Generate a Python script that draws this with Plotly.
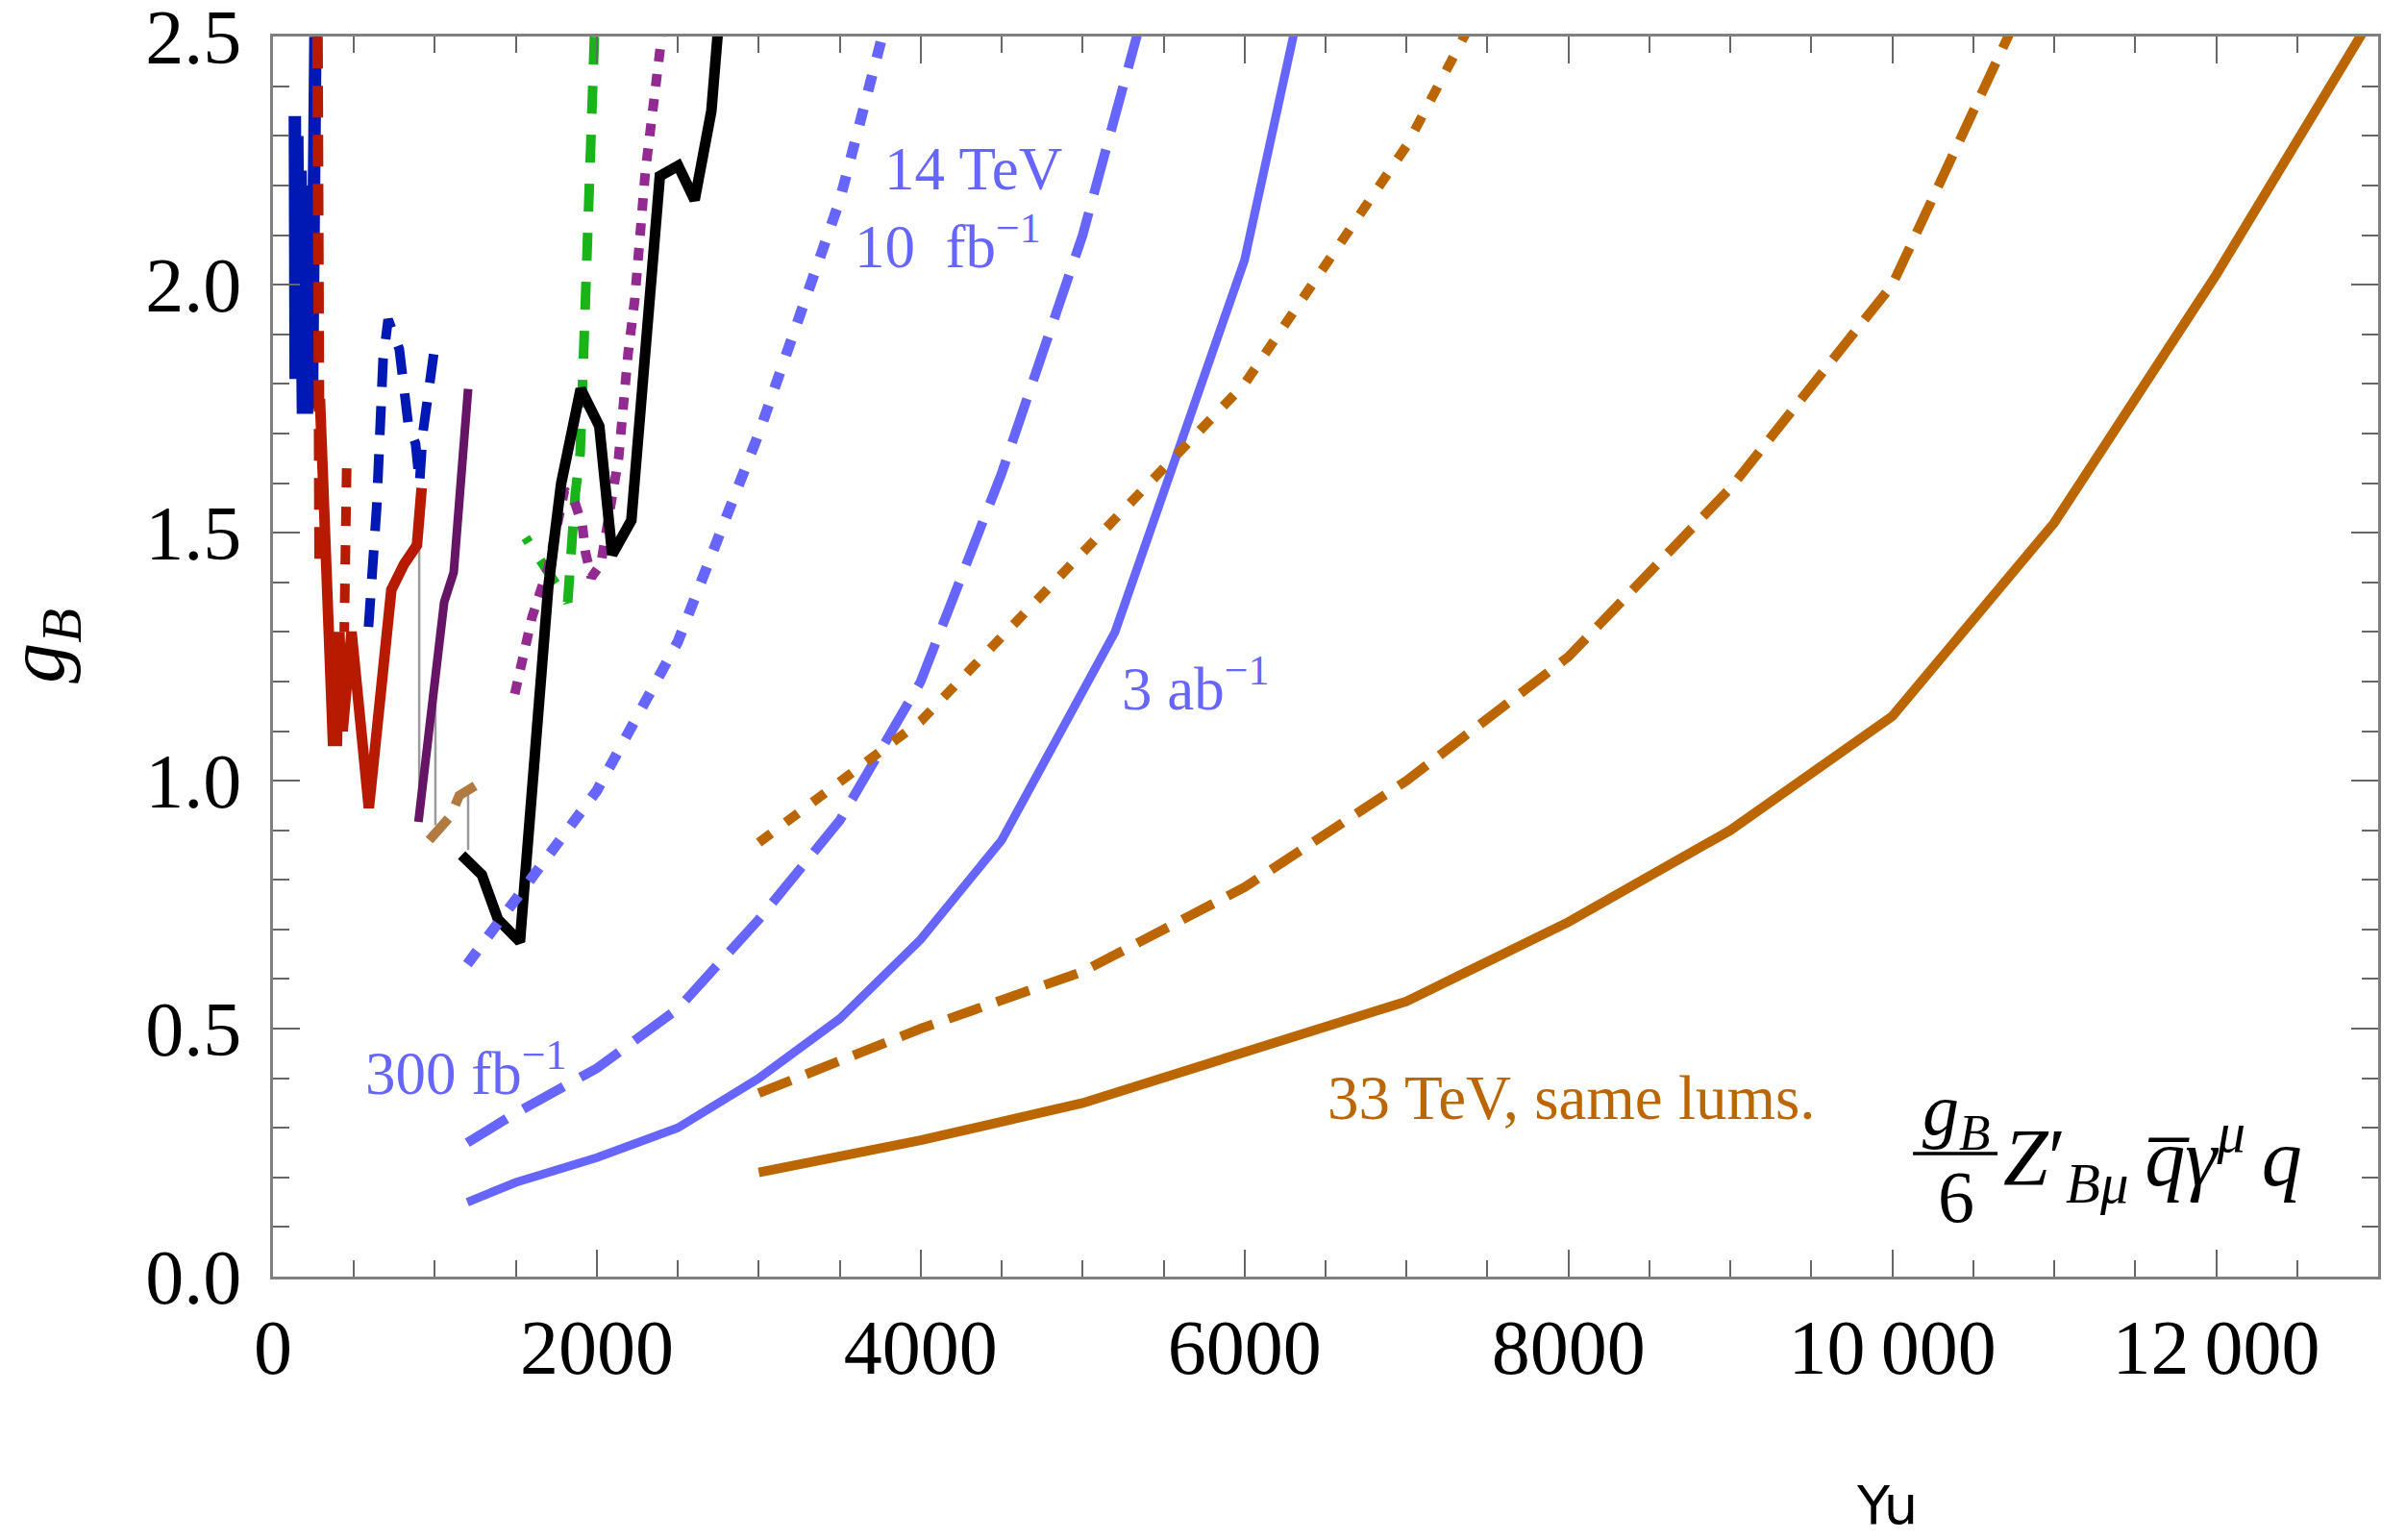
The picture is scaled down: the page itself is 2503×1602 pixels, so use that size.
import plotly.graph_objects as go

# ---------------- data (mass M in GeV, coupling g_B) ----------------
# 14 TeV projections (light blue)
m14_dot = [1200, 1500, 2000, 2500, 3000, 3500, 4000]
g14_dot = [0.63, 0.76, 0.98, 1.28, 1.70, 2.17, 2.80]
m14_dash = [1200, 1500, 2000, 2500, 3000, 3500, 4000, 4500, 5000, 5500]
g14_dash = [0.27, 0.33, 0.42, 0.54, 0.72, 0.92, 1.20, 1.62, 2.10, 2.70]
m14_sol = [1200, 1500, 2000, 2500, 3000, 3500, 4000, 4500, 5200, 6000, 6500]
g14_sol = [0.15, 0.19, 0.24, 0.30, 0.40, 0.52, 0.68, 0.88, 1.30, 2.05, 2.80]

# 33 TeV projections (orange)
m33_dot = [3000, 4000, 5000, 6000, 7000, 8000]
g33_dot = [0.875, 1.12, 1.46, 1.80, 2.28, 2.90]
m33_dash = [3000, 4000, 5000, 6000, 7000, 8000, 9000, 10000, 11000]
g33_dash = [0.37, 0.50, 0.615, 0.785, 1.00, 1.25, 1.59, 2.00, 2.70]
m33_sol = [3000, 4000, 5000, 6000, 7000, 8000, 9000, 10000, 11000, 12000, 13000]
g33_sol = [0.21, 0.275, 0.35, 0.455, 0.555, 0.715, 0.90, 1.13, 1.52, 2.02, 2.56]

# existing limits
m_blue_sol = [135, 140, 150, 160, 170, 185, 195, 210, 225, 240, 250, 258, 262]
g_blue_sol = [2.34, 1.81, 2.30, 1.82, 2.23, 1.74, 2.20, 1.74, 2.15, 1.75, 2.25, 2.40, 2.50]
m_red_dash = [275, 280, 288]
g_red_dash = [2.50, 1.80, 1.42]
m_red_dot = [455, 450, 440]
g_red_dot = [1.63, 1.50, 1.30]
m_red_sol = [290, 320, 340, 370, 395, 410, 430, 470, 485, 592, 731, 810, 889, 918]
g_red_sol = [1.77, 1.50, 1.35, 1.08, 1.08, 1.30, 1.10, 1.30, 1.30, 0.945, 1.385, 1.437, 1.475, 1.59]
m_blue_dash = [590, 640, 680, 711, 780, 835, 880, 905, 925, 965, 1005]
g_blue_dash = [1.31, 1.55, 1.85, 1.93, 1.87, 1.72, 1.68, 1.60, 1.70, 1.80, 1.89]
m_purple_sol = [898, 1057, 1116, 1205]
g_purple_sol = [0.917, 1.36, 1.42, 1.79]
m_tan_dash = [965, 1100, 1150, 1300]
g_tan_dash = [0.88, 0.93, 0.97, 1.00]
m_black = [1165, 1290, 1390, 1525, 1700, 1780, 1900, 2015, 2095, 2213, 2389, 2502, 2604, 2707, 2750]
g_black = [0.85, 0.81, 0.72, 0.675, 1.39, 1.60, 1.79, 1.715, 1.456, 1.525, 2.219, 2.24, 2.171, 2.35, 2.52]
m_purple_dot = [1493, 1600, 1700, 1800, 1860, 1910, 1930, 1966, 2025, 2075, 2134, 2193, 2233, 2300, 2400]
g_purple_dot = [1.175, 1.33, 1.43, 1.585, 1.565, 1.515, 1.46, 1.41, 1.437, 1.546, 1.65, 1.862, 1.967, 2.23, 2.50]
m_green = [1985, 1940, 1907, 1897, 1867, 1838, 1820, 1560]
g_green = [2.50, 2.00, 1.785, 1.66, 1.58, 1.47, 1.36, 1.49]
m_gray1 = [903, 903]
g_gray1 = [1.59, 0.92]
m_gray2 = [1003, 1003]
g_gray2 = [1.19, 0.91]
m_gray3 = [1205, 1205]
g_gray3 = [0.99, 0.86]

x_ticks = [0, 2000, 4000, 6000, 8000, 10000, 12000]
x_ticktext = ["0", "2000", "4000", "6000", "8000", "10\u2009000", "12\u2009000"]
y_ticks = [0, 0.5, 1.0, 1.5, 2.0, 2.5]
y_ticktext = ["0.0", "0.5", "1.0", "1.5", "2.0", "2.5"]

# ---------------- styling ----------------
LBLUE = "#6666ff"
ORANGE = "#bb6600"
DBLUE = "#0019b4"
RED = "#b81a00"
GREEN = "#19b419"
PURPLE = "#661466"
PURPLE2 = "#922a92"
TAN = "#b07a40"
GRAY = "#9a9a9a"
SERIF = "Liberation Serif, Times New Roman, serif"

OFF = 8  # default page body margin
W, H = 2503 - 2 * OFF, 1602 - 2 * OFF
# desired plot area in page pixels: x 283.5..2474, y 37.7..1328
ML = 283.5 - OFF
MT = 37.7 - OFF
MR = W - (2474 - OFF)
MB = H - (1328 - OFF)
PW, PH = W - ML - MR, H - MT - MB


def px(xp):
    return (xp - OFF - ML) / PW


def py(yp):
    return (H - MB - (yp - OFF)) / PH


fig = go.Figure()


def add(m, g, color, width, dash="solid"):
    fig.add_trace(go.Scatter(x=m, y=g, mode="lines",
                             line=dict(color=color, width=width, dash=dash),
                             showlegend=False, hoverinfo="skip"))


# thin gray connectors
add(m_gray1, g_gray1, GRAY, 2.5)
add(m_gray2, g_gray2, GRAY, 2.5)
add(m_gray3, g_gray3, GRAY, 2.5)

add(m_blue_sol, g_blue_sol, DBLUE, 13)
add(m_red_sol, g_red_sol, RED, 11)
add(m_red_dash, g_red_dash, RED, 11, "33px,18px")
add(m_red_dot, g_red_dot, RED, 10, "20px,20px")
add(m_blue_dash, g_blue_dash, DBLUE, 10, "30px,20px")
add(m_purple_sol, g_purple_sol, PURPLE, 9)
add(m_tan_dash, g_tan_dash, TAN, 10, "30px,16px")
add(m_green, g_green, GREEN, 10, "29px,22px")
add(m_purple_dot, g_purple_dot, PURPLE2, 10, "13px,13px")
add(m_black, g_black, "black", 11)

add(m14_dot, g14_dot, LBLUE, 11, "17px,19px")
add(m14_dash, g14_dash, LBLUE, 10, "48px,20px")
add(m14_sol, g14_sol, LBLUE, 9)
add(m33_dot, g33_dot, ORANGE, 10, "16px,19px")
add(m33_dash, g33_dash, ORANGE, 10, "36px,17px")
add(m33_sol, g33_sol, ORANGE, 10)

axis_common = dict(
    showline=True, linecolor="#808080", linewidth=2.5, mirror="allticks",
    ticks="inside", tickcolor="#666666", tickwidth=1.5, ticklen=28,
    showgrid=False, zeroline=False, ticklabeloverflow="allow",
    tickfont=dict(family=SERIF, size=80, color="black"),
)

fig.update_layout(
    width=W, height=H,
    margin=dict(l=ML, r=MR, t=MT, b=MB, autoexpand=False),
    paper_bgcolor="white", plot_bgcolor="white",
    xaxis=dict(range=[0, 13000], tickmode="array", tickvals=x_ticks, ticktext=x_ticktext,
               minor=dict(dtick=500, tick0=0, ticks="inside", ticklen=17, tickcolor="#666666", tickwidth=1.5),
               ticklabelstandoff=2, **axis_common),
    yaxis=dict(range=[0, 2.5005], tickmode="array", tickvals=y_ticks, ticktext=y_ticktext,
               minor=dict(dtick=0.1, tick0=0, ticks="inside", ticklen=17, tickcolor="#666666", tickwidth=1.5),
               ticklabelstandoff=14, **axis_common),
)

annots = []


def text(xp, yp, s, color, size, family=SERIF, xanchor="center", angle=0):
    annots.append(dict(x=px(xp), y=py(yp), xref="paper", yref="paper", text=s,
                       showarrow=False, xanchor=xanchor, yanchor="middle", textangle=angle,
                       font=dict(family=family, size=size, color=color)))


text(1012, 176, "14 TeV", LBLUE, 63)
text(986, 252, "10  fb<sup>\u22121</sup>", LBLUE, 63)
text(485, 1112, "300 fb<sup>\u22121</sup>", LBLUE, 63)
text(1244, 712, "3 ab<sup>\u22121</sup>", LBLUE, 63)
text(1635, 1142, "33 TeV, same lums.", ORANGE, 65)
text(44, 672, "<i>g</i><sub><i>B</i></sub>", "black", 84, angle=-90)
text(1963, 1566, "Yu", "black", 56, family="DejaVu Sans, Verdana, sans-serif")

# formula g_B/6 Z'_{Bmu} qbar gamma^mu q
text(2035, 1160, "<i>g</i><sub><i>B</i></sub>", "black", 76)
text(2035, 1245, "6", "black", 76)
text(2082, 1205, "<i>Z</i>\u2032<sub><i>B\u03bc</i></sub>\u2009<i>q\u0305</i><i>\u03b3</i><sup><i>\u03bc</i></sup>\u2009<i>q</i>",
     "black", 84, xanchor="left")
fig.update_layout(annotations=annots)
fig.add_shape(type="line", xref="paper", yref="paper", x0=px(1990), x1=px(2078),
              y0=py(1200), y1=py(1200), line=dict(color="black", width=3.5))

fig.write_html("out.html")
